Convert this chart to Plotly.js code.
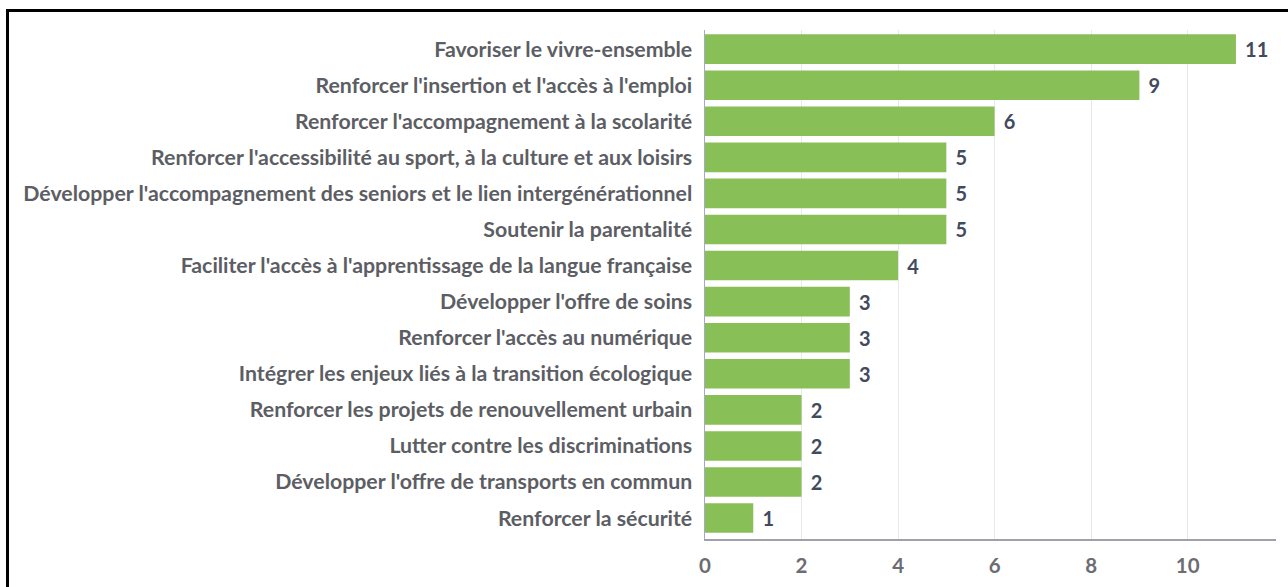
<!DOCTYPE html>
<html>
<head>
<meta charset="utf-8">
<script src="https://cdn.plot.ly/plotly-3.0.1.min.js"></script>
<style>
html,body{margin:0;padding:0;background:#fff;}
#chart{width:1288px;height:587px;position:absolute;left:0;top:0;}
#frame{position:absolute;left:6px;top:9px;width:1300px;height:600px;border-left:3px solid #000;border-top:3px solid #000;pointer-events:none;}
</style>
</head>
<body>
<div id="chart"></div>
<div id="frame"></div>
<script>
const categories = [
  "Favoriser le vivre-ensemble",
  "Renforcer l'insertion et l'accès à l'emploi",
  "Renforcer l'accompagnement à la scolarité",
  "Renforcer l'accessibilité au sport, à la culture et aux loisirs",
  "Développer l'accompagnement des seniors et le lien intergénérationnel",
  "Soutenir la parentalité",
  "Faciliter l'accès à l'apprentissage de la langue française",
  "Développer l'offre de soins",
  "Renforcer l'accès au numérique",
  "Intégrer les enjeux liés à la transition écologique",
  "Renforcer les projets de renouvellement urbain",
  "Lutter contre les discriminations",
  "Développer l'offre de transports en commun",
  "Renforcer la sécurité"
];
const values = [11, 9, 6, 5, 5, 5, 4, 3, 3, 3, 2, 2, 2, 1];
const xTicks = [0, 2, 4, 6, 8, 10];

const trace = {
  type: 'bar',
  orientation: 'h',
  y: categories,
  x: values,
  marker: {color: '#88bf57'},
  width: 0.82,
  text: values.map(v => '\u00a0\u200a' + v),
  textposition: 'outside',
  cliponaxis: false,
  textfont: {family: 'Lato, sans-serif', size: 20, color: '#434a5e', weight: 'bold'},
  hoverinfo: 'none'
};

const layout = {
  width: 1288, height: 587,
  margin: {l: 705, r: 12, t: 30, b: 48, pad: 0},
  paper_bgcolor: '#fff', plot_bgcolor: '#fff',
  showlegend: false,
  font: {family: 'Lato, sans-serif'},
  xaxis: {
    range: [0, 11.83],
    tickvals: xTicks,
    ticktext: xTicks.map(String),
    showgrid: true, gridcolor: '#e8e8ec', gridwidth: 1,
    zeroline: false,
    showline: true, linecolor: '#a0a0a8', linewidth: 1.5,
    ticks: '', ticklen: 0,
    tickfont: {family: 'Lato, sans-serif', size: 20.5, color: '#6c6c72', weight: 'bold'},
    ticklabelstandoff: 8
  },
  yaxis: {
    type: 'category',
    categoryorder: 'array', categoryarray: categories,
    range: [13.58, -0.53],
    showgrid: false, zeroline: false,
    showline: true, linecolor: '#a6a8c8', linewidth: 1.5,
    ticks: '', automargin: false,
    tickfont: {family: 'Lato, sans-serif', size: 21.3, color: '#5c5e64', weight: 'bold'},
    ticklabelstandoff: 7
  }
};

Plotly.newPlot('chart', [trace], layout, {displayModeBar: false, staticPlot: true});
</script>
</body>
</html>
